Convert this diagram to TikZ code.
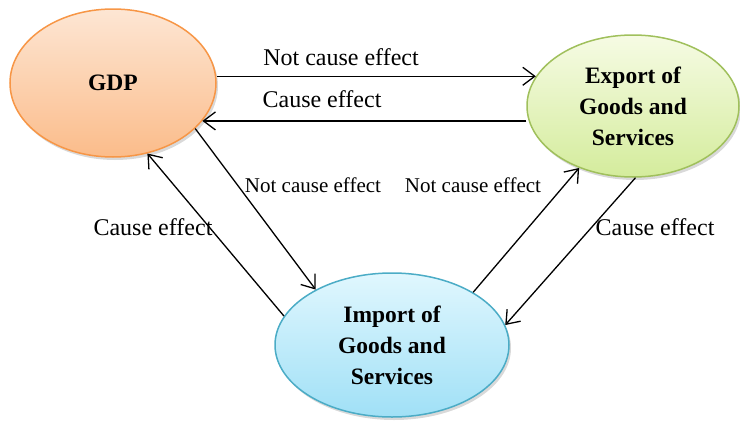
\documentclass[tikz,border=0pt]{standalone}
\usepackage{fontspec}
\setmainfont{Liberation Serif}
\usetikzlibrary{arrows.meta, positioning, shapes.geometric, shadows}
\definecolor{gdpline}{RGB}{247,150,70}
\definecolor{gdptop}{RGB}{253,230,212}
\definecolor{gdpbot}{RGB}{251,188,138}
\definecolor{expline}{RGB}{160,192,92}
\definecolor{exptop}{RGB}{246,251,228}
\definecolor{expbot}{RGB}{212,236,156}
\definecolor{impline}{RGB}{75,172,198}
\definecolor{imptop}{RGB}{224,247,254}
\definecolor{impbot}{RGB}{160,224,246}
\tikzset{
  sector/.style={ellipse, draw, line width=1.5pt, inner sep=0pt, align=center,
    font=\fontsize{23.5}{31}\selectfont\bfseries,
    drop shadow={shadow xshift=2pt, shadow yshift=-3pt, opacity=0.3}},
  link/.style={-{Straight Barb[length=12pt,width=18pt]}, line width=1.3pt},
  lbl/.style={font=\fontsize{24}{28}\selectfont},
  lblsmall/.style={font=\fontsize{21}{24}\selectfont}
}

\begin{document}
\begin{tikzpicture}[x=1pt,y=-1pt]
    \useasboundingbox (0,0) rectangle (740,421);
    \node[sector, draw=gdpline, top color=gdptop, bottom color=gdpbot,
          minimum width=206pt, minimum height=148pt] (gdp) at (113,83) {GDP};
    \node[sector, draw=expline, top color=exptop, bottom color=expbot,
          minimum width=212pt, minimum height=142pt] (export) at (633,106)
          {Export of\\Goods and\\Services};
    \node[sector, draw=impline, top color=imptop, bottom color=impbot,
          minimum width=234pt, minimum height=144pt] (import) at (392,345)
          {Import of\\Goods and\\Services};

    \draw[link] (export.163 -| gdp.east) -- (export.163);
    \draw[link] (gdp.-23 -| export.west) -- (gdp.-23);
    \draw[link] (gdp.-29) -- (import.144);
    \draw[link] (import.165) -- (gdp.-64);
    \draw[link] (import.33) -- (export.229);
    \draw[link] (export.-88) -- (import.10);

    \node[lbl] (l1) at (341,57) {Not cause effect};
    \node[lbl] (l2) at (322,99) {Cause effect};
    \node[lblsmall] (l3) at (313,185) {Not cause effect};
    \node[lblsmall] (l4) at (473,185) {Not cause effect};
    \node[lbl] (l5) at (153,227) {Cause effect};
    \node[lbl] (l6) at (655,227) {Cause effect};
\end{tikzpicture}
\end{document}
